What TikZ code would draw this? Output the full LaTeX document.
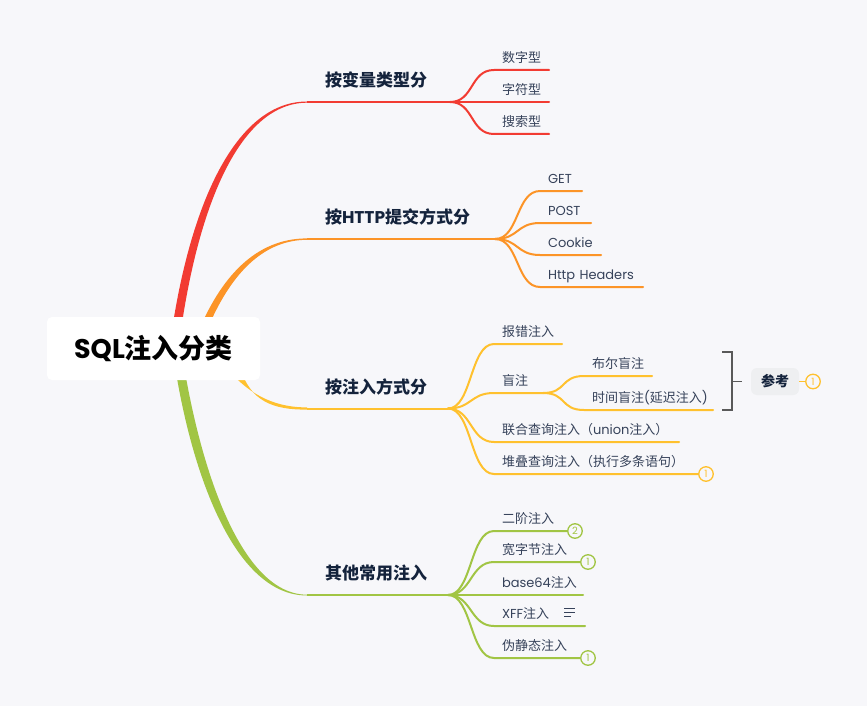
\documentclass[tikz,border=0pt]{standalone}
\usepackage{fontspec}
\setmainfont{Poppins}
\newfontfamily\cj{Noto Sans CJK SC}
\usetikzlibrary{backgrounds}
\definecolor{bgc}{HTML}{F7F7FA}
\definecolor{cred}{HTML}{F23B32}
\definecolor{corange}{HTML}{FC9427}
\definecolor{cyellow}{HTML}{FFC12E}
\definecolor{cgreen}{HTML}{A1C544}
\definecolor{ttext}{HTML}{14233C}
\definecolor{ltext}{HTML}{36425A}
\definecolor{refc}{HTML}{EEEFF1}
\tikzset{
  x=1pt,y=-1pt,
  rootbox/.style={fill=white,rounded corners=5pt,minimum width=213pt,minimum height=63pt,inner sep=0pt,font=\fontsize{27}{30}\selectfont\bfseries,text=black},
  topicbox/.style={anchor=south west,inner sep=0pt,outer sep=0pt,text height=15pt,text depth=15.5pt,align=left,font=\fontsize{17}{20}\selectfont\bfseries,text=ttext},
  leafbox/.style={anchor=south west,inner sep=0pt,outer sep=0pt,text height=10pt,text depth=7.5pt,align=left,font=\fontsize{13}{15}\selectfont,text=ltext},
  curveline/.style={line width=2pt,line cap=round},
  numcirc/.style={circle,draw=#1,fill=bgc,line width=1.3pt,minimum size=14.5pt,inner sep=0pt,text=#1,font=\fontsize{10}{12}\selectfont},
  refbox/.style={fill=refc,rounded corners=6pt,minimum width=48pt,minimum height=27pt,inner sep=0pt,font=\fontsize{14}{16}\selectfont\bfseries\cj,text=ttext},
  bracketline/.style={draw=black!65,line width=1.7pt},
}
% name, x0, x1, y, text
\newcommand{\leafnode}[5]{\node[leafbox,text width=\dimexpr#3pt-#2pt\relax] (#1) at (#2,#4) {\mbox{\hspace*{8pt}#5}};}
\newcommand{\topicnode}[5]{\node[topicbox,text width=\dimexpr#3pt-#2pt\relax] (#1) at (#2,#4) {\mbox{\hspace*{18pt}#5}};}
% colour, from, to
\newcommand{\link}[3]{\draw[curveline,#1] (#2.south east) .. controls +(24,0) and +(-24,0) .. (#3.south west) -- (#3.south east);}
\begin{document}
\begin{tikzpicture}
\useasboundingbox (0,0) rectangle (867,706);
\begin{scope}[on background layer]
\fill[bgc] (0,0) rectangle (867,706);
\end{scope}

\node[rootbox] (root) at (153.5,348.5) {SQL{\cj 注入分类}};

\topicnode{t1}{307}{450}{102}{\cj 按变量类型分}
\topicnode{t2}{307}{495}{239}{{\cj 按}HTTP{\cj 提交方式分}}
\topicnode{t3}{307}{448}{408.5}{\cj 按注入方式分}
\topicnode{t4}{307}{448}{595}{\cj 其他常用注入}

\leafnode{a1}{494}{549}{70}{\cj 数字型}
\leafnode{a2}{494}{549}{102}{\cj 字符型}
\leafnode{a3}{494}{549}{134}{\cj 搜索型}

\leafnode{b1}{540}{582}{191}{GET}
\leafnode{b2}{540}{591}{223}{POST}
\leafnode{b3}{540}{601}{255}{Cookie}
\leafnode{b4}{540}{643}{287}{Http Headers}

\leafnode{c1}{494}{562}{344}{\cj 报错注入}
\leafnode{c2}{494}{543}{393}{\cj 盲注}
\leafnode{c3}{494}{679}{442}{{\cj 联合查询注入（}union{\cj 注入）}}
\leafnode{c4}{494}{699}{474}{\cj 堆叠查询注入（执行多条语句）}
\leafnode{d1}{584}{652}{376}{\cj 布尔盲注}
\leafnode{d2}{584}{713}{410}{{\cj 时间盲注}({\cj 延迟注入})}

\leafnode{e1}{494}{568}{531}{\cj 二阶注入}
\leafnode{e2}{494}{581}{562}{\cj 宽字节注入}
\leafnode{e3}{494}{583}{595}{base64{\cj 注入}}
\leafnode{e4}{494}{585}{626}{XFF{\cj 注入}}
\leafnode{e5}{494}{581}{658}{\cj 伪静态注入}

% main tapered branches
\begin{scope}[on background layer]
\fill[cred] (172,330) .. controls (192,198) and (238,101.5) .. (307,101.5) -- (307,102.7) .. controls (240,103) and (199,205) .. (181,330) -- cycle;
\fill[corange] (197,335) .. controls (220,278) and (255,238.4) .. (307,238.4) -- (307,239.8) .. controls (258,240) and (226,282) .. (205,335) -- cycle;
\fill[cyellow] (226,367) .. controls (252,399) and (280,407.4) .. (307,407.4) -- (307,409.6) .. controls (274,409.8) and (250,402) .. (240,367) -- cycle;
\fill[cgreen] (174,360) .. controls (191,472) and (234,595.5) .. (307,595.5) -- (307,594.7) .. controls (242,594.5) and (201,472) .. (183,360) -- cycle;
\end{scope}

\draw[line width=2pt,cred] (t1.south west) -- (t1.south east);
\draw[line width=2pt,corange] (t2.south west) -- (t2.south east);
\draw[line width=2pt,cyellow] (t3.south west) -- (t3.south east);
\draw[line width=2pt,cgreen] (t4.south west) -- (t4.south east);

\link{cred}{t1}{a1}\link{cred}{t1}{a2}\link{cred}{t1}{a3}
\link{corange}{t2}{b1}\link{corange}{t2}{b2}\link{corange}{t2}{b3}\link{corange}{t2}{b4}
\link{cyellow}{t3}{c1}\link{cyellow}{t3}{c2}\link{cyellow}{t3}{c3}\link{cyellow}{t3}{c4}
\link{cyellow}{c2}{d1}\link{cyellow}{c2}{d2}
\link{cgreen}{t4}{e1}\link{cgreen}{t4}{e2}\link{cgreen}{t4}{e3}\link{cgreen}{t4}{e4}\link{cgreen}{t4}{e5}

% reference bracket
\coordinate (bt) at (722,352);
\coordinate (bb) at (722,410);
\coordinate (bm) at (742,381.5);
\node[refbox] (ref) at (775,381.5) {参考};
\draw[bracketline] (bt) -- (732,352) -- (732,410) -- (bb);
\draw[bracketline] (732,381.5) -- (bm);

% number badges
\node[numcirc=cyellow] (n1) at (813,381.5) {1};
\draw[cyellow,line width=1.3pt] (ref) -- (n1);
\node[numcirc=cyellow] (n2) at (706,474) {1};
\node[numcirc=cgreen] (n3) at (575,531) {2};
\node[numcirc=cgreen] (n4) at (588,562) {1};
\node[numcirc=cgreen] (n5) at (588,658) {1};

% note icon
\draw[ltext,line width=1pt] (564,608.5) -- (575,608.5) (564,612.5) -- (575,612.5) (564,616.5) -- (571,616.5);
\end{tikzpicture}
\end{document}
